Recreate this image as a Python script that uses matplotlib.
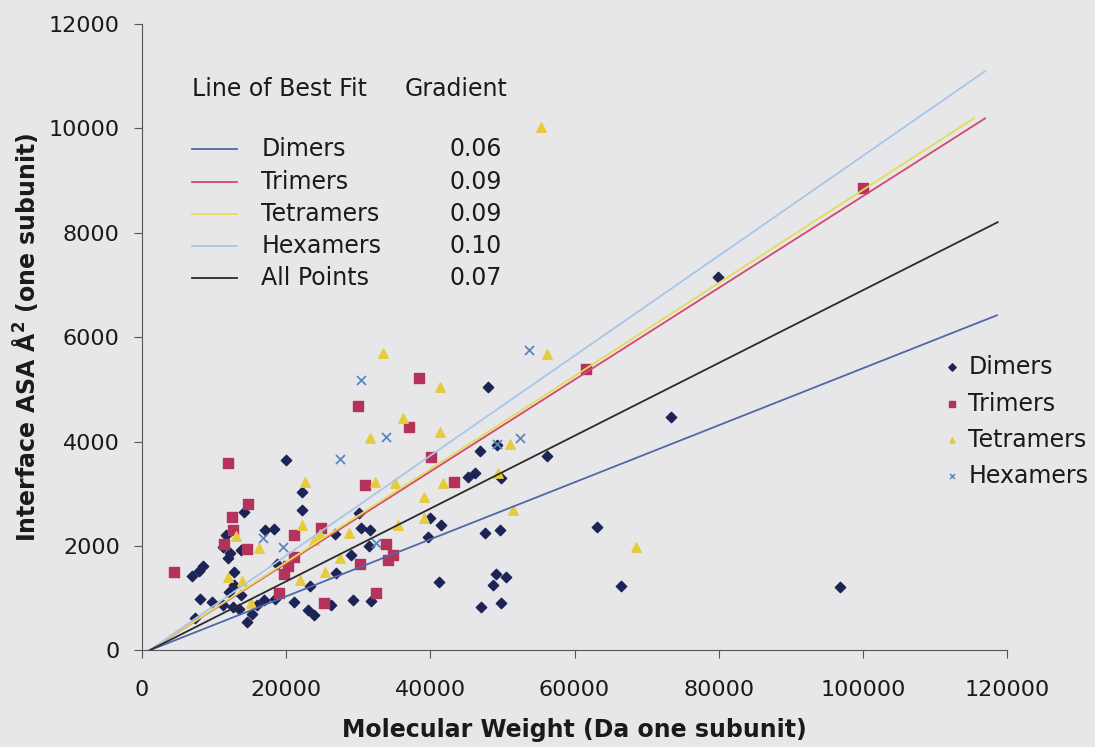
import numpy as np
import matplotlib
matplotlib.use("Agg")
import matplotlib.pyplot as plt

plt.rcParams['font.family'] = ['DejaVu Sans']

# molecular weight (Da, one subunit) and interface ASA (A^2, one subunit)
dimer_mw = [14210, 17080, 11670, 11210, 13750, 12220, 11990, 8430, 7960, 6900, 12820, 12820,
            12130, 13710, 8060, 9680, 11210, 12600, 13470, 15930, 16950, 15320, 14540, 7360,
            19960, 22180, 22180, 18240, 30140, 26810, 30420, 31670, 31440, 18710, 29030, 26950,
            23340, 18470, 21150, 23010, 23800, 26250, 29260, 31810,
            47970, 46950, 49270, 45240, 46250, 49820, 40000, 41530, 39680, 47640, 49630, 41160,
            49130, 50560, 48660, 47040, 49730,
            73340, 56120, 63060, 66390, 79900, 96760]
dimer_asa = [2657, 2306, 2211, 1987, 1924, 1860, 1765, 1617, 1522, 1426, 1497, 1254,
             1125, 1062, 991, 922, 871, 838, 788, 871, 966, 699, 551, 628,
             3646, 3040, 2689, 2320, 2638, 2230, 2339, 2306, 2000, 1656, 1828, 1478,
             1241, 980, 922, 775, 679, 871, 966, 953,
             5049, 3824, 3933, 3327, 3403, 3296, 2530, 2402, 2178, 2243, 2306, 1305,
             1464, 1413, 1254, 838, 903,
             4475, 3723, 2370, 1235, 7160, 1213]

trimer_mw = [11900, 14770, 12540, 12600, 11430, 14540, 4490,
             30970, 21150, 24860, 21020, 20240, 19720, 18940, 25190, 30190, 33890, 34130, 32500,
             29910, 38480, 36990, 40140, 43240, 34820, 61530, 100000]
trimer_asa = [3595, 2798, 2549, 2306, 2033, 1937, 1508,
              3168, 2211, 2339, 1796, 1617, 1458, 1095, 903, 1650, 2038, 1732, 1095,
              4686, 5214, 4284, 3709, 3219, 1828, 5392, 8860]

tetramer_mw = [13060, 16160, 11990, 13850, 15140,
               22640, 32370, 22180, 24720, 23790, 28660, 27500, 25320, 21850, 31670,
               33380, 41390, 36210, 41300, 51020, 35040, 41760, 39080, 39080, 35510, 49410, 51490,
               55380, 56210, 68480]
tetramer_asa = [2192, 1956, 1401, 1336, 915,
                3231, 3231, 2402, 2224, 2115, 2243, 1765, 1508, 1349, 4061,
                5707, 5049, 4444, 4188, 3947, 3212, 3200, 2932, 2530, 2402, 3403, 2689,
                10026, 5676, 1975]

hexamer_mw = [16850, 27400, 19540, 32500, 30380, 33890, 49180, 52400, 53700]
hexamer_asa = [2159, 3659, 1987, 2063, 5177, 4096, 3959, 4070, 5750]

# best fit lines: drawn slope, start / end of the fitted range
fit_names = ["Dimers", "Trimers", "Tetramers", "Hexamers", "All Points"]
fit_slope = [0.0546, 0.0879, 0.0891, 0.0957, 0.0697]
fit_x0 = 1000
fit_xend = [118600, 116950, 115380, 116950, 118700]
fit_grad_label = ["0.06", "0.09", "0.09", "0.10", "0.07"]
fit_colors = ["#5068a8", "#d2486e", "#e3dc5a", "#a9c6e6", "#2b2b2b"]

bg = "#e7e7e9"
txt = "#1a1a1a"
fig = plt.figure(figsize=(10.95, 7.47), dpi=100, facecolor=bg)
ax = fig.add_axes([0.1297, 0.1292, 0.7900, 0.8387])
ax.set_facecolor(bg)

ax.scatter(dimer_mw, dimer_asa, marker='D', s=28, color="#1c2456", zorder=2)
ax.scatter(trimer_mw, trimer_asa, marker='s', s=42, color="#b5325a", zorder=2)
ax.scatter(tetramer_mw, tetramer_asa, marker='^', s=46, color="#e6cc3c", zorder=2)
ax.scatter(hexamer_mw, hexamer_asa, marker='x', s=42, color="#5f86b8", linewidths=1.3, zorder=2)

for m, xe, c in zip(fit_slope, fit_xend, fit_colors):
    xs = np.array([fit_x0, xe])
    ax.plot(xs, m * (xs - fit_x0), color=c, lw=1.3, zorder=3)

ax.set_xlim(0, 120000)
ax.set_ylim(0, 12000)
ax.set_xticks(np.arange(0, 120001, 20000))
ax.set_yticks(np.arange(0, 12001, 2000))
for s in ["top", "right"]:
    ax.spines[s].set_visible(False)
for s in ["left", "bottom"]:
    ax.spines[s].set_color("#555555")
ax.tick_params(labelsize=16, colors=txt, length=6, color="#555555")
ax.tick_params(axis="y", pad=10)
ax.tick_params(axis="x", pad=15)

ax.set_xlabel("Molecular Weight (Da one subunit)", fontsize=17, fontweight="bold",
              labelpad=13, color=txt)
ax.set_ylabel("Interface ASA Å$^\\mathbf{2}$ (one subunit)", fontsize=17, fontweight="bold",
              labelpad=6, color=txt)

# line of best fit legend block
tf = ax.transAxes
ax.text(0.0575, 0.897, "Line of Best Fit", transform=tf, fontsize=17, va="center", ha="left", color=txt)
ax.text(0.304, 0.897, "Gradient", transform=tf, fontsize=17, va="center", ha="left", color=txt)
row_y = [0.800, 0.748, 0.697, 0.646, 0.595]
for y, name, g, c in zip(row_y, fit_names, fit_grad_label, fit_colors):
    ax.plot([0.0575, 0.110], [y, y], color=c, lw=1.3, transform=tf)
    ax.text(0.138, y, name, transform=tf, fontsize=17, va="center", ha="left", color=txt)
    ax.text(0.416, y, g, transform=tf, fontsize=17, va="center", ha="right", color=txt)

# marker legend
mk_y = [0.4525, 0.3935, 0.336, 0.2785]
mk = [('D', "#1c2456", "Dimers"), ('s', "#b5325a", "Trimers"),
      ('^', "#e6cc3c", "Tetramers"), ('x', "#5f86b8", "Hexamers")]
for y, (m, c, lab) in zip(mk_y, mk):
    ax.scatter([0.936], [y], marker=m, s=14, color=c, transform=tf, clip_on=False, linewidths=1)
    ax.text(0.955, y, lab, transform=tf, fontsize=17, va="center", ha="left", color=txt)

fig.savefig("out.png", dpi=100, facecolor=bg)
